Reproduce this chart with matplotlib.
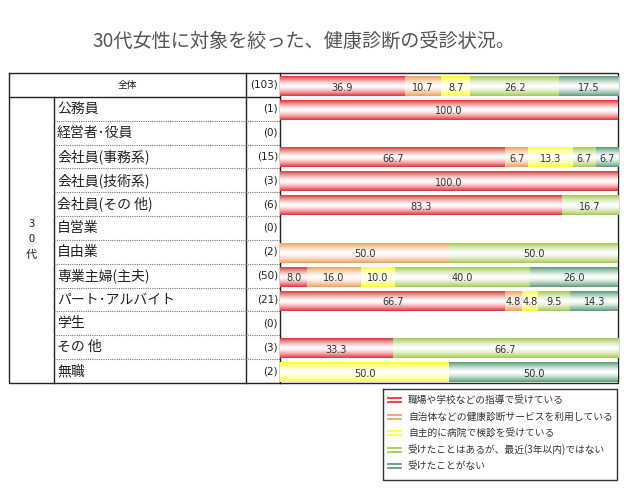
import numpy as np
import matplotlib
matplotlib.use("Agg")
import matplotlib.pyplot as plt
from matplotlib.colors import to_rgb

plt.rcParams['font.family'] = ['Noto Sans CJK JP', 'DejaVu Sans']

title = "30代女性に対象を絞った、健康診断の受診状況。"
header_label = "全体"
header_n = 103
header_values = [36.9, 10.7, 8.7, 26.2, 17.5]

categories = ["公務員", "経営者･役員", "会社員(事務系)", "会社員(技術系)", "会社員(その 他)",
              "自営業", "自由業", "専業主婦(主夫)", "パート･アルバイト", "学生", "その 他", "無職"]
counts = [1, 0, 15, 3, 6, 0, 2, 50, 21, 0, 3, 2]
s1 = [100.0, 0, 66.7, 100.0, 83.3, 0, 0, 8.0, 66.7, 0, 33.3, 0]
s2 = [0, 0, 6.7, 0, 0, 0, 50.0, 16.0, 4.8, 0, 0, 0]
s3 = [0, 0, 13.3, 0, 0, 0, 0, 10.0, 4.8, 0, 0, 50.0]
s4 = [0, 0, 6.7, 0, 16.7, 0, 50.0, 40.0, 9.5, 0, 66.7, 0]
s5 = [0, 0, 6.7, 0, 0, 0, 0, 26.0, 14.3, 0, 0, 50.0]
group_label = ["3", "0", "代"]

legend_labels = ["職場や学校などの指導で受けている",
                 "自治体などの健康診断サービスを利用している",
                 "自主的に病院で検診を受けている",
                 "受けたことはあるが、最近(3年以内)ではない",
                 "受けたことがない"]
colors = ["#E3353B", "#F2A25E", "#FFFF3A", "#A4CB55", "#5C9C77"]

W, H = 640, 501
fig = plt.figure(figsize=(W / 100, H / 100), dpi=100)
ax = fig.add_axes([0, 0, 1, 1])
ax.set_xlim(0, W)
ax.set_ylim(H, 0)
ax.axis('off')

# layout (pixels)
x0, xc1, xc2, xc3, x4 = 9, 54, 246, 280, 618
y0, y1 = 73, 383
nrows = 1 + len(categories)
rh = (y1 - y0) / nrows

bax = fig.add_axes([xc3 / W, 1 - y1 / H, (x4 - xc3) / W, (y1 - y0) / H])

all_vals = [header_values] + [list(v) for v in zip(s1, s2, s3, s4, s5)]
bh = 0.8
t = np.linspace(0, 1, 40)
w = np.abs(2 * t - 1) ** 1.4
for i, vals in enumerate(all_vals):
    left = 0
    yc = i + 0.06
    for j, v in enumerate(vals):
        if v <= 0:
            continue
        c = np.array(to_rgb(colors[j]))
        grad = (1 - w)[:, None] * np.ones(3) + w[:, None] * c
        img = grad[:, None, :]
        bax.imshow(img, extent=(left, left + v, yc + bh / 2, yc - bh / 2),
                   aspect='auto', interpolation='bilinear', zorder=2)
        bax.text(left + v / 2, yc + 0.05, f"{v:.1f}", ha='center', va='center',
                 fontsize=7, color='#333333', family='DejaVu Sans', zorder=3)
        left += v
bax.set_xlim(0, 100)
bax.set_ylim(nrows - 0.5, -0.5)
bax.axis('off')

# table lines
lc = '#222222'
ax.plot([x0, x4, x4, x0, x0], [y0, y0, y1, y1, y0], color=lc, lw=1)
ax.plot([x0, xc3], [y0 + rh, y0 + rh], color=lc, lw=1)
ax.plot([xc1, xc1], [y0 + rh, y1], color=lc, lw=1)
ax.plot([xc2, xc2], [y0, y1], color=lc, lw=1)
ax.plot([xc3, xc3], [y0, y1], color=lc, lw=1)
for k in range(2, nrows):
    yy = y0 + k * rh
    ax.plot([xc1, xc3], [yy, yy], color='#777777', lw=0.8, ls=(0, (1, 1)))

# texts
ax.text((x0 + xc2) / 2, y0 + rh / 2, header_label, ha='center', va='center', fontsize=7, color='#222222')
ax.text(xc3 - 2, y0 + rh / 2, f"({header_n})", ha='right', va='center', fontsize=7.5,
        family='DejaVu Sans', color='#222222')
for i, (cat, n) in enumerate(zip(categories, counts)):
    yy = y0 + (i + 1.5) * rh
    ax.text(xc1 + 3, yy, cat, ha='left', va='center', fontsize=10, color='#222222')
    ax.text(xc3 - 2, yy, f"({n})", ha='right', va='center', fontsize=7.5,
            family='DejaVu Sans', color='#222222')
for k, ch in enumerate(group_label):
    ax.text((x0 + xc1) / 2, 224 + k * 15.5, ch, ha='center', va='center', fontsize=8, color='#222222')

ax.text(304, 41, title, ha='center', va='center', fontsize=13.8, color='#555555')

# legend
lx0, ly0, lx1, ly1 = 383, 389, 617, 480
ax.plot([lx0, lx1, lx1, lx0, lx0], [ly0, ly0, ly1, ly1, ly0], color='#333333', lw=1)
for k, (lab, c) in enumerate(zip(legend_labels, colors)):
    yy = 400 + k * 16.6
    ax.plot([388, 401], [yy - 2, yy - 2], color=c, lw=1.3)
    ax.plot([388, 401], [yy + 2, yy + 2], color=c, lw=1.3)
    ax.text(408, yy, lab, ha='left', va='center', fontsize=7, color='#333333')

fig.savefig("out.png", dpi=100)
